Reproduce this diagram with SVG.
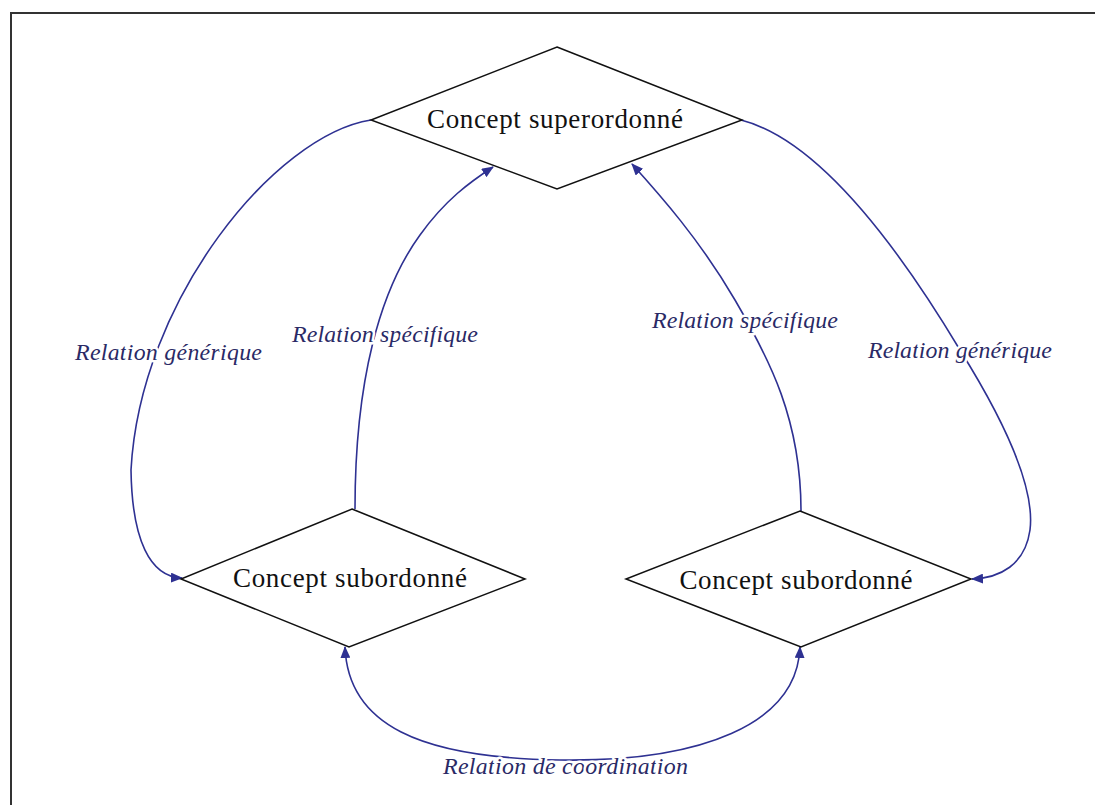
<svg xmlns="http://www.w3.org/2000/svg" width="1095" height="805" viewBox="0 0 1095 805">
  <defs>
    <marker id="arrow" viewBox="0 0 12 10" refX="11" refY="5" markerWidth="12" markerHeight="10" markerUnits="userSpaceOnUse" orient="auto-start-reverse">
      <path d="M0,0 L12,5 L0,10 Z" fill="#2e3192"/>
    </marker>
    <style>
      .node { fill: #ffffff; stroke: #111111; stroke-width: 1.5; }
      .ntext { font-family: "Liberation Serif", "DejaVu Serif", serif; font-size: 27px; fill: #111111; text-anchor: middle; }
      .edge { fill: none; stroke: #2e3192; stroke-width: 1.6; }
      .label { font-family: "Liberation Serif", "DejaVu Serif", serif; font-style: italic; font-size: 24px; fill: #2a2a66; stroke: #ffffff; stroke-width: 5; paint-order: stroke; stroke-linejoin: round; }
    </style>
  </defs>
  <rect width="1095" height="805" fill="#ffffff"/>
  <path d="M11,805 L11,13 L1095,13" fill="none" stroke="#333333" stroke-width="2"/>

  <g id="connectors">
    <path id="e-gen-left" class="edge" d="M371,120 C275,135 140,300 131,470 C132,540 150,577 182,578" marker-end="url(#arrow)"/>
    <path id="e-spec-left" class="edge" d="M355,509 C355,380 380,290 420,235 C445,200 470,182 493,167" marker-end="url(#arrow)"/>
    <path id="e-spec-right" class="edge" d="M801,511 C801,420 770,360 735,300 C700,240 660,195 632,164" marker-end="url(#arrow)"/>
    <path id="e-gen-right" class="edge" d="M741,120 C820,140 900,250 960,350 C1010,430 1035,490 1030,530 C1025,565 1000,578 972,579" marker-end="url(#arrow)"/>
    <path id="e-coord" class="edge" d="M345,647 C348,725 420,758 560,760 C700,762 797,725 800,647" marker-start="url(#arrow)" marker-end="url(#arrow)"/>
  </g>

  <g id="labels">
    <text class="label" x="75" y="360" textLength="187" lengthAdjust="spacing">Relation générique</text>
    <text class="label" x="292" y="342" textLength="186" lengthAdjust="spacing">Relation spécifique</text>
    <text class="label" x="652" y="328" textLength="186" lengthAdjust="spacing">Relation spécifique</text>
    <text class="label" x="868" y="358" textLength="184" lengthAdjust="spacing">Relation générique</text>
    <text class="label" x="443" y="774" textLength="245" lengthAdjust="spacing">Relation de coordination</text>
  </g>

  <g id="node-superordonne">
    <polygon class="node" points="557,47 742,120 557,189 371,120"/>
    <text class="ntext" x="555" y="128" textLength="256" lengthAdjust="spacing">Concept superordonné</text>
  </g>
  <g id="node-subordonne-left">
    <polygon class="node" points="352,509 525,579 349,647 181,579"/>
    <text class="ntext" x="350" y="587" textLength="234" lengthAdjust="spacing">Concept subordonné</text>
  </g>
  <g id="node-subordonne-right">
    <polygon class="node" points="800,511 971,579 801,647 626,579"/>
    <text class="ntext" x="796" y="589" textLength="233" lengthAdjust="spacing">Concept subordonné</text>
  </g>
</svg>
